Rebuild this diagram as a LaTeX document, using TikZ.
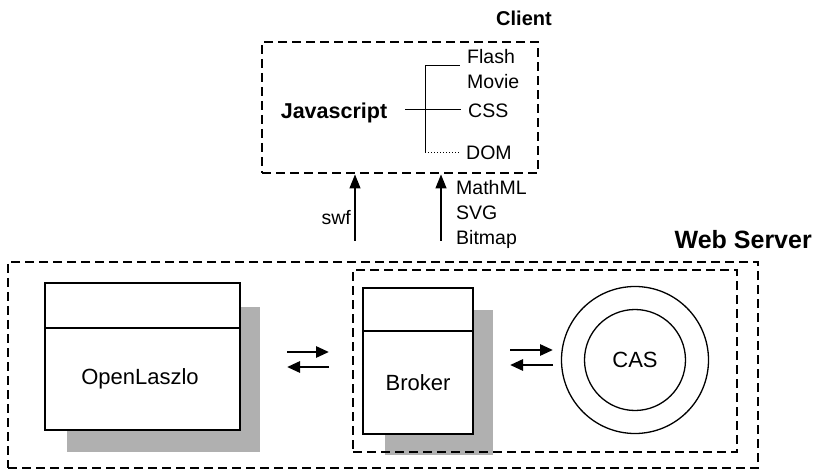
\documentclass[tikz,border=0pt]{standalone}
\usepackage{fontspec}
\setmainfont{Liberation Sans}
\usetikzlibrary{arrows.meta}
\tikzset{
  dashbox/.style={draw, line width=2.9pt, dash pattern=on 9pt off 5pt, inner sep=0pt},
  plainbox/.style={draw, line width=1.3pt, fill=white, inner sep=0pt},
  shadowbox/.style={fill=gray!62, draw=none, inner sep=0pt},
  lbl/.style={font=\fontsize{22}{26}\selectfont, inner sep=0pt},
  small/.style={font=\fontsize{19.5}{25}\selectfont, inner sep=0pt, align=left},
  boldlbl/.style={font=\bfseries\fontsize{21.5}{26}\selectfont, inner sep=0pt},
  uparrow/.style={line width=1.3pt, -{Triangle[length=14pt,width=11pt]}},
  sidearrow/.style={line width=2.8pt, -{Triangle[length=13pt,width=11pt]}},
  tree/.style={line width=1pt},
}
\begin{document}
\begin{tikzpicture}[x=1pt,y=-1pt]
\useasboundingbox (0,0) rectangle (814,473);
% Client
\node[dashbox, minimum width=276pt, minimum height=131pt] (client) at (400,107.5) {};
\node[boldlbl, font=\bfseries\fontsize{20}{24}\selectfont] (clientlbl) at (524,18) {Client};
\node[boldlbl] (js) at (334,113) {Javascript};
\node[small, anchor=west, align=left] (flash) at (467,69) {Flash\\Movie};
\node[small, anchor=west] (css) at (468,111) {CSS};
\node[small, anchor=west] (dom) at (466,153) {DOM};
\coordinate (jsout) at (405,110);
\coordinate (jn) at (425,66);
\coordinate (js2) at (425,153);
\draw[tree, shorten >=7pt] (jsout) -- (jsout -| css.west);
\draw[tree, shorten >=7pt] (jn) -- (jn -| flash.west);
\draw[tree] (jn) -- (js2);
\draw[tree, dotted, shorten >=6pt] (js2) -- (js2 -| dom.west);
% Web server
\node[dashbox, minimum width=750pt, minimum height=206pt] (ws) at (383,365) {};
\node[boldlbl, font=\bfseries\fontsize{25}{30}\selectfont, anchor=east] (wslbl) at (812,240) {Web Server};
% arrows to client
\coordinate (swfx) at (355,0);
\coordinate (mmx) at (441,0);
\draw[uparrow] (ws.north -| swfx) ++(0,-20) -- (client.south -| swfx);
\draw[uparrow] (ws.north -| mmx) ++(0,-20) -- (client.south -| mmx);
\node[small, anchor=east] (swf) at (351,218) {swf};
\node[small, anchor=north west, align=left] (mml) at (456,180) {MathML\\SVG\\Bitmap};
% OpenLaszlo
\node[shadowbox, minimum width=193pt, minimum height=145pt] (olshadow) at (163.5,379.5) {};
\node[plainbox, minimum width=195pt, minimum height=147pt] (ol) at (142.5,356.5) {};
\draw[line width=1.3pt] (ol.west |- 0,328) -- (ol.east |- 0,328);
\node[lbl] (oltext) at (140,379) {OpenLaszlo};
% inner box
\node[shadowbox, minimum width=108pt, minimum height=145pt] (brshadow) at (439,382.5) {};
\node[dashbox, minimum width=384pt, minimum height=182pt] (inner) at (545,361) {};
\node[plainbox, minimum width=110pt, minimum height=146pt] (br) at (418,361) {};
\draw[line width=1.3pt] (br.west |- 0,331) -- (br.east |- 0,331);
\node[lbl] (brtext) at (418,383) {Broker};
% CAS
\node[circle, draw, line width=1.3pt, minimum size=147pt, inner sep=0pt] (casout) at (635,360) {};
\node[circle, draw, line width=1.3pt, minimum size=101pt, inner sep=0pt, lbl] (cas) at (635,360) {CAS};
% side arrows
\coordinate (a1l) at (287,352);
\coordinate (a1r) at (329,352);
\coordinate (a2l) at (287,367);
\coordinate (a2r) at (329,367);
\draw[sidearrow] (a1l) -- (a1r);
\draw[sidearrow] (a2r) -- (a2l);
\coordinate (b1l) at (510,350);
\coordinate (b1r) at (553,350);
\coordinate (b2l) at (510,365);
\coordinate (b2r) at (553,365);
\draw[sidearrow] (b1l) -- (b1r);
\draw[sidearrow] (b2r) -- (b2l);
\end{tikzpicture}
\end{document}
